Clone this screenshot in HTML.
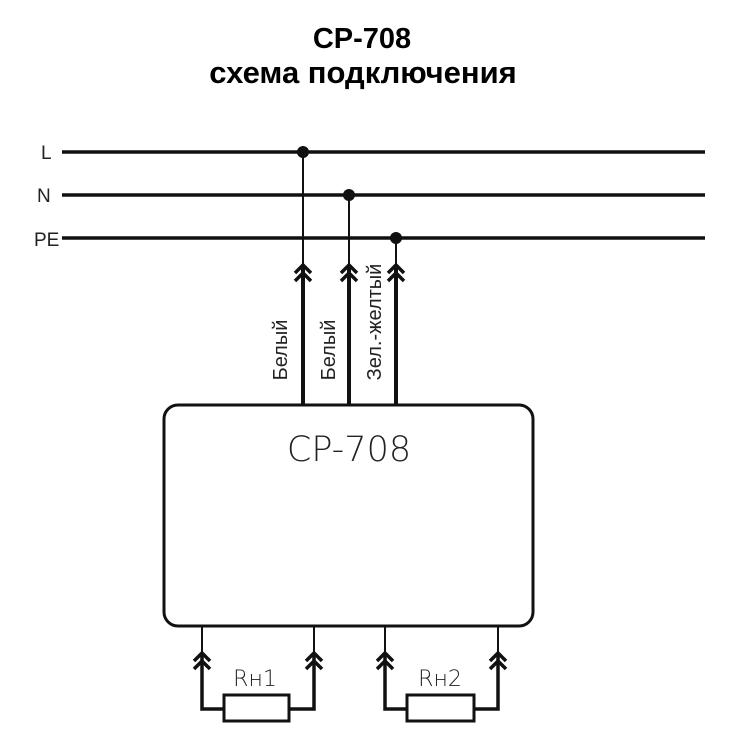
<!DOCTYPE html>
<html><head><meta charset="utf-8"><style>html,body{margin:0;padding:0;background:#fff}svg{display:block}</style></head><body>
<svg width="750" height="750" viewBox="0 0 750 750" xmlns="http://www.w3.org/2000/svg">
<defs>
<g id="chev"><polyline points="-8,8 0,0 8,8" fill="none" stroke="#111" stroke-width="3.5"/><polyline points="-8,16 0,8 8,16" fill="none" stroke="#111" stroke-width="3.5"/></g>
</defs>
<g font-family="'Liberation Sans', sans-serif" text-anchor="middle" font-weight="bold" fill="#000">
<text x="362" y="48" font-size="29">CP-708</text>
<text x="363" y="83" font-size="31">схема подключения</text>
</g>
<g font-family="'Liberation Sans', sans-serif" font-size="19" fill="#222">
<text x="41" y="159">L</text>
<text x="37" y="202">N</text>
<text x="34" y="246">PE</text>
</g>
<g stroke="#111" stroke-width="3.5">
<line x1="62" y1="152" x2="705" y2="152"/>
<line x1="62" y1="195" x2="705" y2="195"/>
<line x1="62" y1="238" x2="705" y2="238"/>
</g>
<g fill="#111"><circle cx="303" cy="152" r="6"/><circle cx="349" cy="195" r="6"/><circle cx="396" cy="238" r="6"/></g>
<g stroke="#111" stroke-width="2">
<line x1="303" y1="152" x2="303" y2="270"/>
<line x1="349" y1="195" x2="349" y2="270"/>
<line x1="396" y1="238" x2="396" y2="270"/>
</g>
<g stroke="#111" stroke-width="4">
<line x1="303" y1="268" x2="303" y2="405"/>
<line x1="349" y1="268" x2="349" y2="405"/>
<line x1="396" y1="268" x2="396" y2="405"/>
</g>
<use href="#chev" x="303" y="265"/><use href="#chev" x="349" y="265"/><use href="#chev" x="396" y="265"/>
<g font-family="'Liberation Sans', sans-serif" font-size="20" fill="#222" text-anchor="middle">
<text transform="translate(287,350) rotate(-90)">Белый</text>
<text transform="translate(335,350) rotate(-90)">Белый</text>
<text transform="translate(381,322) rotate(-90)">Зел.-желтый</text>
</g>
<rect x="164" y="405" width="369" height="221" rx="14" fill="none" stroke="#111" stroke-width="3"/>
<text x="349" y="461" font-family="'DejaVu Sans', sans-serif" font-weight="200" font-size="35" text-anchor="middle" fill="#222">CP-708</text>
<g stroke="#111" stroke-width="2">
<line x1="202" y1="626" x2="202" y2="656"/><line x1="314" y1="626" x2="314" y2="656"/>
<line x1="385" y1="626" x2="385" y2="656"/><line x1="498" y1="626" x2="498" y2="656"/>
</g>
<g fill="none" stroke="#111" stroke-width="3.5">
<polyline points="202,656 202,709 224,709"/><polyline points="289,709 314,709 314,656"/>
<polyline points="385,656 385,709 407,709"/><polyline points="474,709 498,709 498,656"/>
<rect x="224" y="695" width="65" height="26" stroke-width="3"/>
<rect x="407" y="695" width="67" height="26" stroke-width="3"/>
</g>
<use href="#chev" x="202" y="653"/><use href="#chev" x="314" y="653"/><use href="#chev" x="385" y="653"/><use href="#chev" x="498" y="653"/>
<g font-family="'DejaVu Sans', sans-serif" font-weight="200" font-size="22" fill="#222" text-anchor="middle">
<text x="255" y="686">Rн1</text>
<text x="440" y="686">Rн2</text>
</g>
</svg>
</body></html>
